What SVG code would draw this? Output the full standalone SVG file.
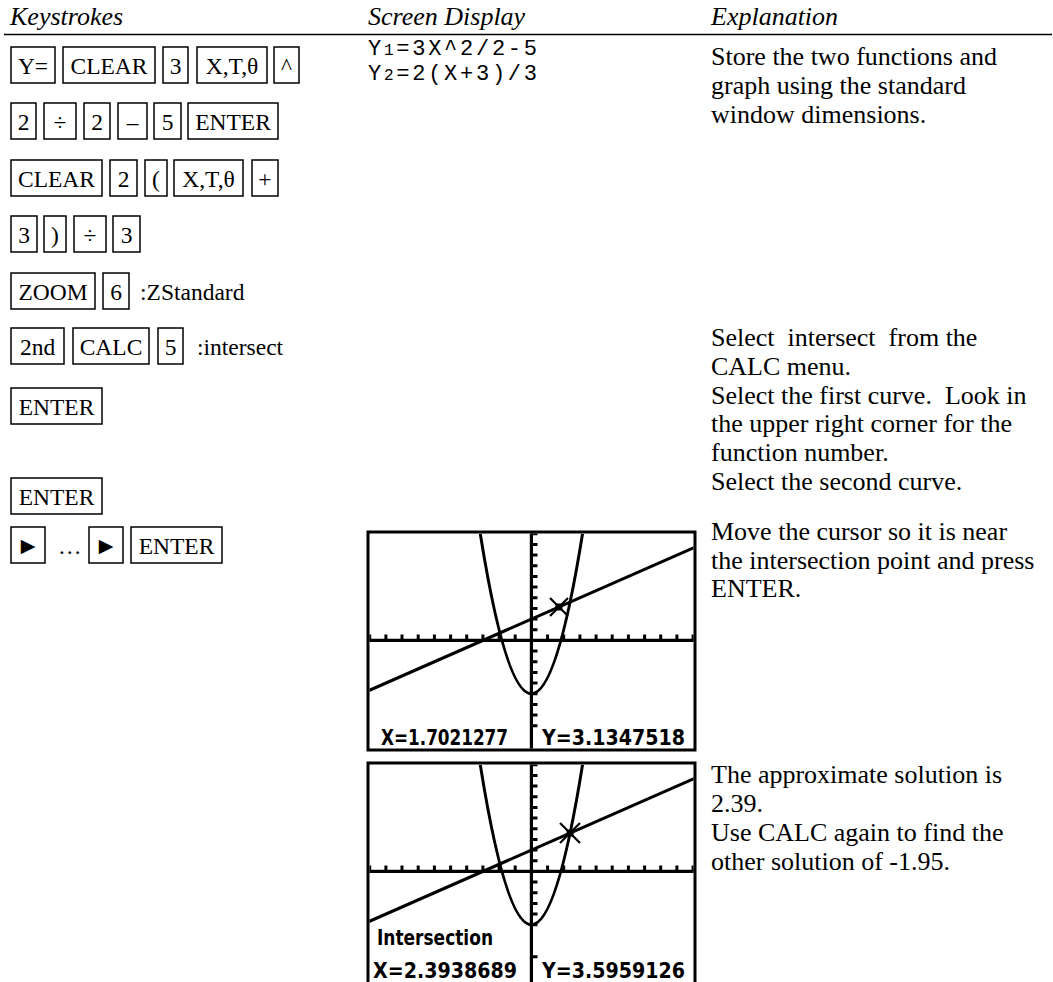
<svg xmlns="http://www.w3.org/2000/svg" width="1053" height="982" viewBox="0 0 1053 982">
<style>
.k{fill:none;stroke:#000;stroke-width:1.5}
.kt{font-family:"Liberation Serif",serif;font-size:23.5px;text-anchor:middle;fill:#000}
.kl{font-family:"Liberation Serif",serif;font-size:23.5px;fill:#000}
.h{font-family:"Liberation Serif",serif;font-size:26px;font-style:italic;fill:#000}
.t{font-family:"Liberation Serif",serif;font-size:26px;fill:#000}
.m{font-family:"Liberation Mono","Courier New",monospace;font-size:22px;fill:#000}
.ti{font-family:"DejaVu Sans Condensed","DejaVu Sans",sans-serif;font-size:22px;font-weight:600;fill:#000}
.frame{fill:#fff;stroke:#000;stroke-width:3}
.ax{stroke:#000;stroke-width:3.2;fill:none}
.cv{stroke:#000;stroke-width:3;fill:none}
.tk{stroke:#000;stroke-width:3;fill:none}
.ar{font-family:"DejaVu Sans",sans-serif;font-size:19px;text-anchor:middle;fill:#000}
</style>
<defs>
<clipPath id="c1"><rect x="369.5" y="533.5" width="324" height="215"/></clipPath>
<clipPath id="c2"><rect x="369.5" y="764.5" width="324" height="220"/></clipPath>
</defs>
<rect width="1053" height="982" fill="#fff"/>

<g id="headers">
<text class="h" x="10" y="25">Keystrokes</text>
<text class="h" x="368" y="25">Screen Display</text>
<text class="h" x="711" y="25">Explanation</text>
<line x1="4" y1="34.5" x2="1052" y2="34.5" stroke="#000" stroke-width="1.7"/>
</g>

<g id="row1">
<rect class="k" x="11" y="47" width="44" height="36"/><text class="kt" x="33" y="74">Y=</text>
<rect class="k" x="63" y="47" width="92" height="36"/><text class="kt" x="109" y="74">CLEAR</text>
<rect class="k" x="163" y="47" width="25" height="36"/><text class="kt" x="175.5" y="74">3</text>
<rect class="k" x="197" y="47" width="70" height="36"/><text class="kt" x="232" y="74">X,T,θ</text>
<rect class="k" x="274" y="47" width="25" height="36"/><text class="kt" x="286.5" y="74">^</text>
</g>
<g id="row2">
<rect class="k" x="11" y="103" width="25" height="36"/><text class="kt" x="23.5" y="130">2</text>
<rect class="k" x="44" y="103" width="32" height="36"/><text class="kt" x="60" y="130">÷</text>
<rect class="k" x="84" y="103" width="26" height="36"/><text class="kt" x="97" y="130">2</text>
<rect class="k" x="118" y="103" width="29" height="36"/><text class="kt" x="132.5" y="130">–</text>
<rect class="k" x="154" y="103" width="27" height="36"/><text class="kt" x="167.5" y="130">5</text>
<rect class="k" x="188" y="103" width="90" height="36"/><text class="kt" x="233" y="130">ENTER</text>
</g>
<g id="row3">
<rect class="k" x="11" y="160" width="91" height="36"/><text class="kt" x="56.5" y="187">CLEAR</text>
<rect class="k" x="110" y="160" width="27" height="36"/><text class="kt" x="123.5" y="187">2</text>
<rect class="k" x="145" y="160" width="22" height="36"/><text class="kt" x="156" y="187">(</text>
<rect class="k" x="174" y="160" width="69" height="36"/><text class="kt" x="208.5" y="187">X,T,θ</text>
<rect class="k" x="252" y="160" width="26" height="36"/><text class="kt" x="265" y="187">+</text>
</g>
<g id="row4">
<rect class="k" x="11" y="216" width="26" height="36"/><text class="kt" x="24" y="243">3</text>
<rect class="k" x="44" y="216" width="22" height="36"/><text class="kt" x="55" y="243">)</text>
<rect class="k" x="74" y="216" width="32" height="36"/><text class="kt" x="90" y="243">÷</text>
<rect class="k" x="113" y="216" width="27" height="36"/><text class="kt" x="126.5" y="243">3</text>
</g>
<g id="row5">
<rect class="k" x="11" y="273" width="84" height="36"/><text class="kt" x="53" y="300">ZOOM</text>
<rect class="k" x="103" y="273" width="26" height="36"/><text class="kt" x="116" y="300">6</text>
<text class="kl" x="140" y="300">:ZStandard</text>
</g>
<g id="row6">
<rect class="k" x="11" y="328" width="53" height="36"/><text class="kt" x="37.5" y="355">2nd</text>
<rect class="k" x="73" y="328" width="76" height="36"/><text class="kt" x="111" y="355">CALC</text>
<rect class="k" x="158" y="328" width="25" height="36"/><text class="kt" x="170.5" y="355">5</text>
<text class="kl" x="197" y="355">:intersect</text>
</g>
<g id="row7">
<rect class="k" x="11" y="388" width="91" height="36"/><text class="kt" x="56.5" y="415">ENTER</text>
</g>
<g id="row8">
<rect class="k" x="11" y="478" width="91" height="36"/><text class="kt" x="56.5" y="505">ENTER</text>
</g>
<g id="row9">
<rect class="k" x="11" y="527" width="34" height="36"/><text class="ar" x="28" y="552">▶</text>
<text class="kl" x="58" y="554">…</text>
<rect class="k" x="89" y="527" width="34" height="36"/><text class="ar" x="106" y="552">▶</text>
<rect class="k" x="131" y="527" width="91" height="36"/><text class="kt" x="176.5" y="554">ENTER</text>
</g>

<g id="screen-text">
<text class="m" x="368" y="55" textLength="169" lengthAdjust="spacing">Y<tspan font-size="16">1</tspan>=3X^2/2-5</text>
<text class="m" x="368" y="80" textLength="169" lengthAdjust="spacing">Y<tspan font-size="16">2</tspan>=2(X+3)/3</text>
</g>

<g id="explanation1">
<text class="t" x="711" y="65">Store the two functions and</text>
<text class="t" x="711" y="94">graph using the standard</text>
<text class="t" x="711" y="123">window dimensions.</text>
</g>
<g id="explanation2">
<text class="t" x="711" y="346" xml:space="preserve">Select  intersect  from the</text>
<text class="t" x="711" y="375">CALC menu.</text>
<text class="t" x="711" y="404" xml:space="preserve">Select the first curve.  Look in</text>
<text class="t" x="711" y="432">the upper right corner for the</text>
<text class="t" x="711" y="461">function number.</text>
<text class="t" x="711" y="490">Select the second curve.</text>
</g>
<g id="explanation3">
<text class="t" x="711" y="540">Move the cursor so it is near</text>
<text class="t" x="711" y="569">the intersection point and press</text>
<text class="t" x="711" y="597" font-size="22">ENTER.</text>
</g>
<g id="explanation4">
<text class="t" x="711" y="783">The approximate solution is</text>
<text class="t" x="711" y="812">2.39.</text>
<text class="t" x="711" y="841">Use CALC again to find the</text>
<text class="t" x="711" y="870">other solution of -1.95.</text>
</g>

<g id="graph1">
<rect class="frame" x="368" y="532" width="327" height="218"/>
<g clip-path="url(#c1)">
<path class="ax" d="M368,640.4H695M531.4,532V750"/>
<path class="tk" d="M369.7,634.5V640.4M385.9,634.5V640.4M402,634.5V640.4M418.2,634.5V640.4M434.4,634.5V640.4M450.6,634.5V640.4M466.7,634.5V640.4M482.9,634.5V640.4M499.1,634.5V640.4M515.2,634.5V640.4M547.6,634.5V640.4M563.7,634.5V640.4M579.9,634.5V640.4M596.1,634.5V640.4M612.2,634.5V640.4M628.4,634.5V640.4M644.6,634.5V640.4M660.7,634.5V640.4M676.9,634.5V640.4M693.1,634.5V640.4"/>
<path class="tk" d="M531.4,533.8H537.5M531.4,544.5H537.5M531.4,555.1H537.5M531.4,565.8H537.5M531.4,576.4H537.5M531.4,587.1H537.5M531.4,597.8H537.5M531.4,608.4H537.5M531.4,619.1H537.5M531.4,629.7H537.5M531.4,651.1H537.5M531.4,661.7H537.5M531.4,672.4H537.5M531.4,683H537.5M531.4,693.7H537.5M531.4,704.4H537.5M531.4,715H537.5M531.4,725.7H537.5"/>
<path class="cv" d="M480.27,533.8Q531.4,853.6 582.53,533.8"/>
<path class="cv" d="M366.5,691.6L696.3,546.6"/>
<path d="M550,598L568,616M568,598L550,616" stroke="#000" stroke-width="2.2"/>
<rect x="555.4" y="603.5" width="7" height="7" fill="#000"/>
<text class="ti" x="381" y="745" textLength="127" lengthAdjust="spacingAndGlyphs">X=1.7021277</text>
<text class="ti" x="542" y="745" textLength="143" lengthAdjust="spacingAndGlyphs">Y=3.1347518</text>
</g>
</g>

<g id="graph2">
<rect class="frame" x="368" y="763" width="327" height="222"/>
<g clip-path="url(#c2)">
<path class="ax" d="M368,871.4H695M531.4,763V985"/>
<path class="tk" d="M369.7,865.5V871.4M385.9,865.5V871.4M402,865.5V871.4M418.2,865.5V871.4M434.4,865.5V871.4M450.6,865.5V871.4M466.7,865.5V871.4M482.9,865.5V871.4M499.1,865.5V871.4M515.2,865.5V871.4M547.6,865.5V871.4M563.7,865.5V871.4M579.9,865.5V871.4M596.1,865.5V871.4M612.2,865.5V871.4M628.4,865.5V871.4M644.6,865.5V871.4M660.7,865.5V871.4M676.9,865.5V871.4M693.1,865.5V871.4"/>
<path class="tk" d="M531.4,764.8H537.5M531.4,775.5H537.5M531.4,786.1H537.5M531.4,796.8H537.5M531.4,807.4H537.5M531.4,818.1H537.5M531.4,828.8H537.5M531.4,839.4H537.5M531.4,850.1H537.5M531.4,860.7H537.5M531.4,882.1H537.5M531.4,892.7H537.5M531.4,903.4H537.5M531.4,914H537.5M531.4,924.7H537.5M531.4,956.7H537.5"/>
<path class="cv" d="M480.27,764.8Q531.4,1084.6 582.53,764.8"/>
<path class="cv" d="M366.5,922.6L696.3,777.6"/>
<path d="M560,823L580,843M580,823L560,843" stroke="#000" stroke-width="2.2"/>
<rect x="566.6" y="829.6" width="7" height="7" fill="#000"/>
<text class="ti" x="377" y="945" textLength="116" lengthAdjust="spacingAndGlyphs">Intersection</text>
<text class="ti" x="373" y="978" textLength="144" lengthAdjust="spacingAndGlyphs">X=2.3938689</text>
<text class="ti" x="542" y="978" textLength="143" lengthAdjust="spacingAndGlyphs">Y=3.5959126</text>
</g>
</g>

<g id="connectors"/>
</svg>
